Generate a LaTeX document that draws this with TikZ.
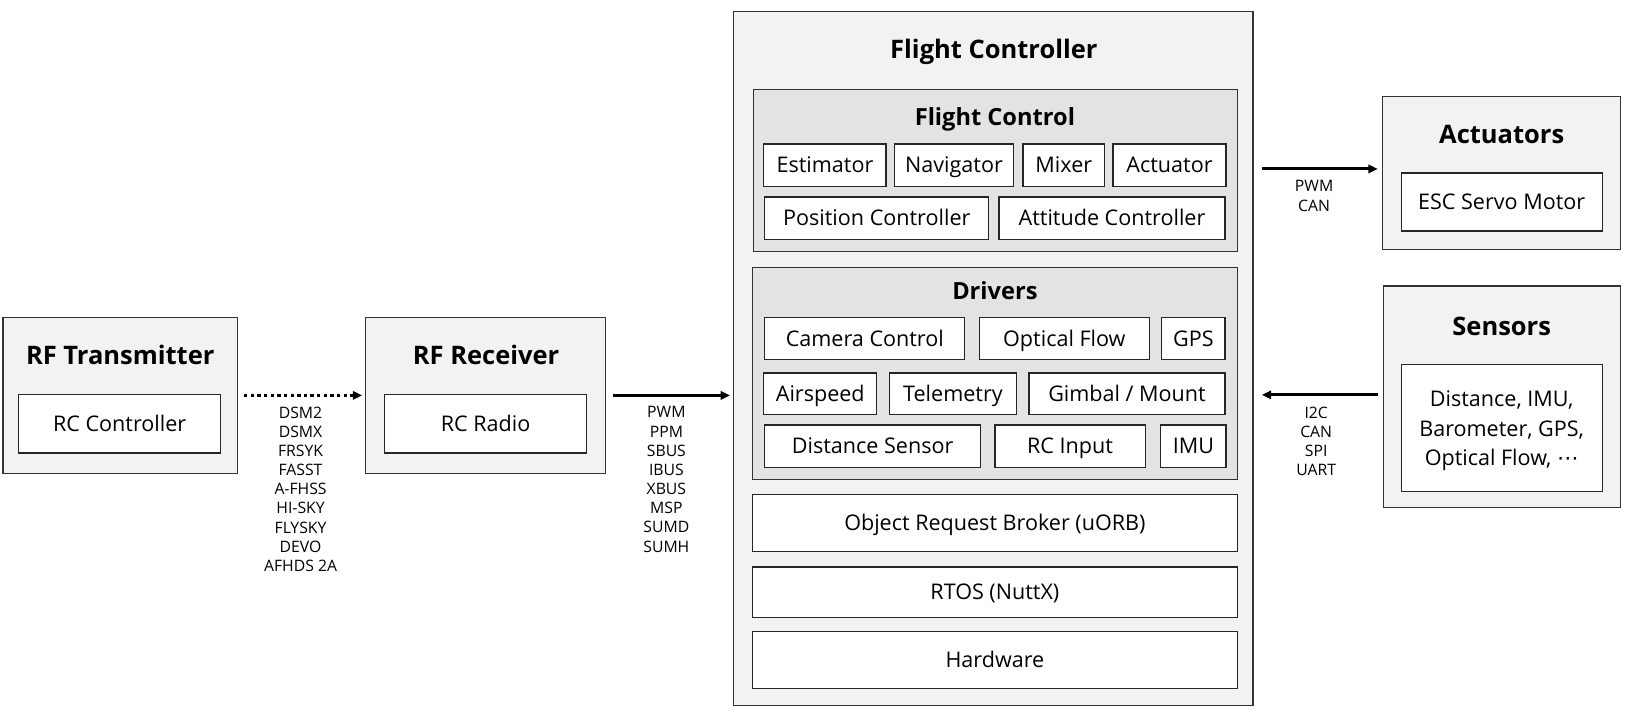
\documentclass[tikz,border=0pt]{standalone}
\usepackage{fontspec}
\setmainfont{Open Sans}
\newfontfamily\symfont{DejaVu Sans}
\usetikzlibrary{fit,arrows.meta}
\newcommand\wbox[6]{\node[whitebox, minimum width={(#4-#2)*0.5pt}, minimum height={(#5-#3)*0.5pt}] (#1) at ({(#2+#4)/2},{(#3+#5)/2}) {#6};}
\begin{document}
\begin{tikzpicture}[x=0.5pt,y=-0.5pt,
 outerbox/.style={draw=black!80, line width=0.6pt, fill=black!5, inner sep=0pt},
 groupbox/.style={draw=black!80, line width=0.6pt, fill=black!11, inner sep=0pt},
 whitebox/.style={draw=black!85, line width=0.6pt, fill=white, inner sep=0pt, font=\fontsize{10.4}{12}\selectfont, text height=8.4pt, text depth=1pt},
 bigtitle/.style={font=\fontsize{12.3}{14}\selectfont\bfseries, inner sep=0pt, text height=9.8pt, text depth=1pt},
 subtitle/.style={font=\fontsize{11.4}{13}\selectfont\bfseries, inner sep=0pt, text height=9.1pt, text depth=1pt},
 lbl/.style={font=\fontsize{7.6}{9.25}\selectfont, align=center, anchor=north, inner sep=0pt},
 conn/.style={line width=1.45pt, -{Triangle[length=4.5pt,width=4pt]}},
]
\useasboundingbox[fill=white] (0,0) rectangle (1568,692);

% RF Transmitter
\node[outerbox, fit={(3,306) (229,457)}] (rft) {};
\node[bigtitle] (rftt) at (116,343) {RF Transmitter};
\wbox{rcc}{18}{381}{213}{437}{RC Controller}

% RF Receiver
\node[outerbox, fit={(353,306) (584,457)}] (rfr) {};
\node[bigtitle] (rfrt) at (469,343) {RF Receiver};
\wbox{rcr}{371}{381}{566}{437}{RC Radio}

% Flight Controller
\node[outerbox, fit={(708,11) (1209,681)}] (fc) {};
\node[bigtitle] (fct) at (959,48) {Flight Controller};

\node[groupbox, fit={(727,86) (1194,243)}] (fctl) {};
\node[subtitle] (fctlt) at (960,113) {Flight Control};
\wbox{est}{737}{139}{855}{180}{Estimator}
\wbox{nav}{863}{139}{978}{180}{Navigator}
\wbox{mix}{987}{139}{1066}{180}{Mixer}
\wbox{actr}{1074}{139}{1183}{180}{Actuator}
\wbox{pos}{738}{190}{954}{231}{Position Controller}
\wbox{att}{964}{190}{1182}{231}{Attitude Controller}

\node[groupbox, fit={(726,258) (1194,463)}] (drv) {};
\node[subtitle] (drvt) at (960,281) {Drivers};
\wbox{cam}{738}{306}{931}{347}{Camera Control}
\wbox{opt}{945}{306}{1109}{347}{Optical Flow}
\wbox{gps}{1121}{306}{1182}{347}{GPS}
\wbox{air}{737}{360}{846}{400}{Airspeed}
\wbox{tel}{858}{360}{981}{400}{Telemetry}
\wbox{gim}{993}{360}{1182}{400}{Gimbal / Mount}
\wbox{dist}{738}{410}{946}{451}{Distance Sensor}
\wbox{rci}{960}{410}{1105}{451}{RC Input}
\wbox{imu}{1120}{410}{1183}{451}{IMU}

\wbox{uorb}{726}{477}{1194}{532}{Object Request Broker (uORB)}
\wbox{rtos}{726}{547}{1194}{596}{RTOS (NuttX)}
\wbox{hw}{726}{609}{1194}{664}{Hardware}

% Actuators
\node[outerbox, fit={(1334,93) (1564,241)}] (act) {};
\node[bigtitle] (actt) at (1449,130) {Actuators};
\wbox{esc}{1352}{167}{1546}{223}{ESC Servo Motor}

% Sensors
\node[outerbox, fit={(1335,276) (1564,490)}] (sen) {};
\node[bigtitle] (sent) at (1449,315) {Sensors};
\node[whitebox, minimum width={(1546-1352)*0.5pt}, minimum height={(474-352)*0.5pt}, text height=, text depth=] (senb) at (1449,413) {};
\node[font=\fontsize{10.4}{14.25}\selectfont, align=center, inner sep=0pt] (sentx) at ([yshift=-1.5pt]senb.center)
  {Distance, IMU,\\Barometer, GPS,\\Optical Flow, {\symfont ⋯}};

% Connectors
\draw[conn, dash pattern=on 1.6pt off 1.6pt] ([xshift=3pt]rft.east) -- ([xshift=-1.5pt]rfr.west);
\draw[conn, shorten <=3.5pt, shorten >=1.5pt] (rfr.east) -- (fc.west |- rfr.east);
\coordinate (a1) at ([yshift=2pt]act.west);
\draw[conn, shorten <=4pt, shorten >=2pt] (fc.east |- a1) -- (a1);
\coordinate (s1) at ([yshift=1pt]sen.west);
\draw[conn, shorten <=2.5pt, shorten >=4pt] (s1) -- (fc.east |- s1);

% Labels
\node[lbl] (l1) at (290,392) {DSM2\\DSMX\\FRSYK\\FASST\\A-FHSS\\HI-SKY\\FLYSKY\\DEVO\\AFHDS 2A};
\node[lbl] (l2) at (643,392) {PWM\\PPM\\SBUS\\IBUS\\XBUS\\MSP\\SUMD\\SUMH};
\node[lbl] (l3) at (1268,174) {PWM\\CAN};
\node[lbl] (l4) at (1270,392) {I2C\\CAN\\SPI\\UART};
\end{tikzpicture}
\end{document}
